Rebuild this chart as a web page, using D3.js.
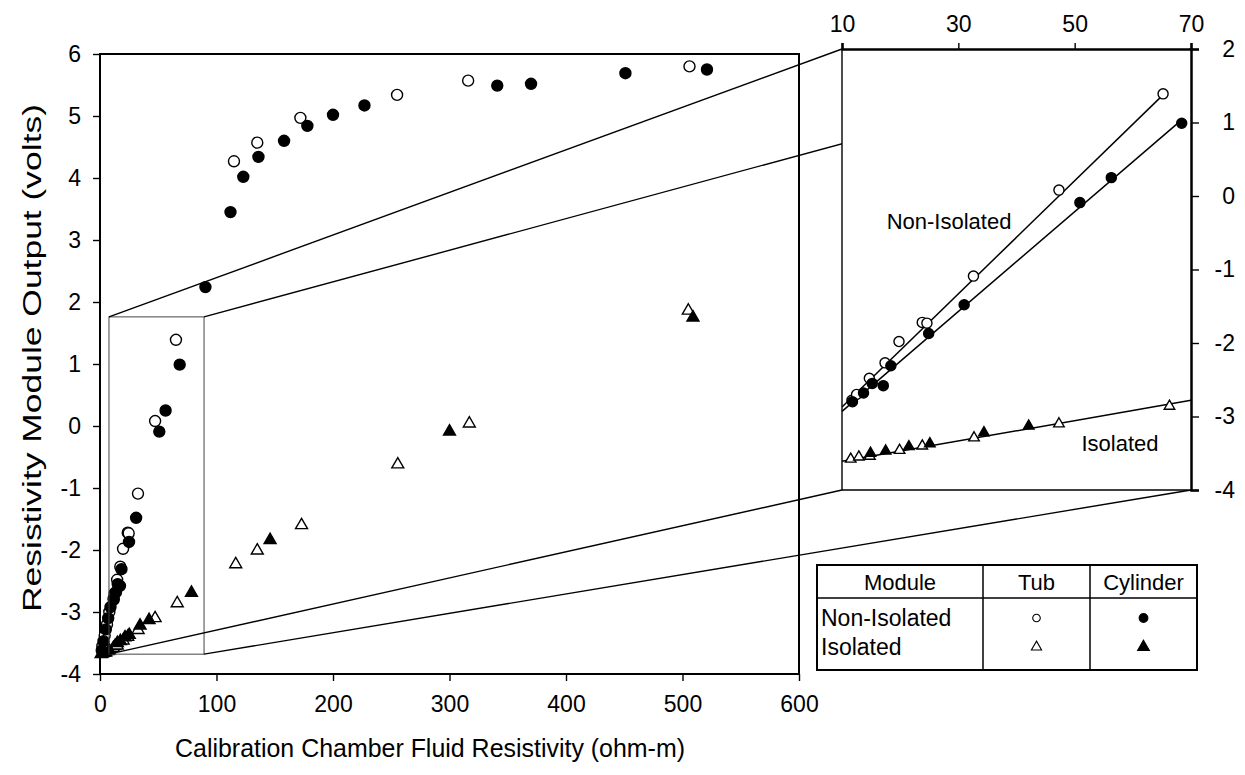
<!DOCTYPE html>
<html>
<head>
<meta charset="utf-8">
<script src="https://cdn.jsdelivr.net/npm/d3@7"></script>
<style>
  body { margin: 0; background: #fff; }
  text { font-family: "Liberation Sans", Arial, sans-serif; fill: #000; }
</style>
</head>
<body>
<div id="chart"></div>
<script>
// resistivity (ohm-m), module output (volts)
const tubNonIso = [[2,-3.55],[4,-3.38],[6,-3.2],[8,-3.0],[11.7,-2.78],[12.5,-2.7],[14.7,-2.48],[17.4,-2.27],
  [19.8,-1.98],[23.8,-1.72],[24.6,-1.73],[32.6,-1.09],[47.3,0.08],[65.2,1.39],
  [115,4.27],[135,4.57],[172,4.97],[255,5.34],[316,5.57],[506,5.8]];
const cylNonIso = [[1.5,-3.62],[3,-3.47],[5,-3.28],[7,-3.1],[9,-2.92],[11.8,-2.8],[13.7,-2.68],[15.2,-2.55],
  [17.1,-2.58],[18.4,-2.31],[24.9,-1.87],[31,-1.48],[50.9,-0.09],[56.3,0.25],[68.4,0.99],
  [90.5,2.24],[112,3.45],[123,4.02],[136,4.34],[158,4.6],[178,4.84],[200,5.02],[227,5.17],
  [341,5.49],[370,5.52],[451,5.69],[521,5.75]];
const tubIso = [[1,-3.68],[4,-3.66],[7,-3.63],[11.5,-3.58],[12.9,-3.55],[14.8,-3.54],[19.9,-3.46],[23.8,-3.4],
  [32.7,-3.29],[47.3,-3.1],[66.3,-2.86],[116.5,-2.23],[135,-2.01],[173,-1.6],[255.6,-0.62],[317,0.04],[505,1.86]];
const cylIso = [[2,-3.67],[5,-3.65],[8,-3.62],[14.9,-3.5],[17.5,-3.47],[21.5,-3.41],[25.1,-3.37],[34.4,-3.22],
  [42.1,-3.13],[78.5,-2.69],[146,-1.84],[300,-0.09],[509,1.75]];

// fitted lines shown in the enlargement
const tubFit = [[10,-2.87],[65.5,1.4]];
const cylFit = [[10,-2.93],[68.6,1.05]];
const isoFit = [[10,-3.61],[70,-2.78]];

// ticks
const mainXTicks = [0,100,200,300,400,500,600];
const mainYTicks = [-4,-3,-2,-1,0,1,2,3,4,5,6];
const insetXTicks = [10,30,50,70];
const insetYTicks = [-4,-3,-2,-1,0,1,2];

// region of the main plot that is enlarged
const zoomBoxX = [7.7, 89.3];
const zoomBoxY = [-3.68, 1.76];

const legendCols = ["Module","Tub","Cylinder"];
const legendRows = ["Non-Isolated","Isolated"];

const xTitle = "Calibration Chamber Fluid Resistivity (ohm-m)";
const yTitle = "Resistivity Module Output (volts)";

const width = 1245, height = 775;
const svg = d3.select("#chart").append("svg")
  .attr("width", width).attr("height", height);

const main = {left: 100, right: 799, top: 54, bottom: 674};
const x = d3.scaleLinear().domain([0,600]).range([main.left, main.right]);
const y = d3.scaleLinear().domain([-4,6]).range([main.bottom, main.top]);

const ins = {left: 842, right: 1191, top: 49, bottom: 490};
const xi = d3.scaleLinear().domain([10,70]).range([ins.left, ins.right]);
const yi = d3.scaleLinear().domain([-4,2]).range([ins.bottom, ins.top]);

const tri = d3.symbol().type(d3.symbolTriangle);
const circ = d3.symbol().type(d3.symbolCircle);
const plain = d => String(d);

function drawPoints(g, data, sx, sy, shape, filled, size) {
  g.append("g").selectAll("path").data(data).join("path")
    .attr("transform", d => `translate(${sx(d[0])},${sy(d[1])})`)
    .attr("d", (shape == "circle" ? circ : tri).size(size)())
    .attr("fill", filled ? "#000" : "#fff")
    .attr("stroke", "#000")
    .attr("stroke-width", 1.4);
}

function styleAxis(a, keepDomain) {
  if (keepDomain) a.select(".domain").attr("stroke", "#000").attr("stroke-width", 2.5);
  else a.select(".domain").remove();
  a.selectAll("line").attr("stroke", "#000").attr("stroke-width", 1.4);
  a.selectAll("text").attr("font-size", 23)
    .attr("font-family", "Liberation Sans, Arial, sans-serif").attr("fill", "#000");
}

// ---- main plot
const gm = svg.append("g");

gm.append("rect")
  .attr("x", main.left).attr("y", main.top)
  .attr("width", main.right - main.left).attr("height", main.bottom - main.top)
  .attr("fill", "none").attr("stroke", "#000").attr("stroke-width", 2);

const xAxis = gm.append("g")
  .attr("transform", `translate(0,${main.bottom})`)
  .call(d3.axisBottom(x).tickValues(mainXTicks).tickFormat(plain).tickSize(7).tickPadding(15));
const yAxis = gm.append("g")
  .attr("transform", `translate(${main.left},0)`)
  .call(d3.axisLeft(y).tickValues(mainYTicks).tickFormat(plain).tickSize(7).tickPadding(12));
styleAxis(xAxis, false);
styleAxis(yAxis, false);

gm.append("text")
  .attr("x", 430).attr("y", 757)
  .attr("text-anchor", "middle").attr("font-size", 25)
  .attr("textLength", 510).attr("lengthAdjust", "spacingAndGlyphs")
  .text(xTitle);
gm.append("text")
  .attr("transform", `translate(41,358) rotate(-90)`)
  .attr("text-anchor", "middle").attr("font-size", 25)
  .attr("textLength", 508).attr("lengthAdjust", "spacingAndGlyphs")
  .text(yTitle);

drawPoints(gm, tubIso, x, y, "tri", false, 62);
drawPoints(gm, cylIso, x, y, "tri", true, 62);
drawPoints(gm, tubNonIso, x, y, "circle", false, 95);
drawPoints(gm, cylNonIso, x, y, "circle", true, 95);

// enlargement box and the lines running to the inset
gm.append("rect")
  .attr("x", x(zoomBoxX[0])).attr("y", y(zoomBoxY[1]))
  .attr("width", x(zoomBoxX[1]) - x(zoomBoxX[0]))
  .attr("height", y(zoomBoxY[0]) - y(zoomBoxY[1]))
  .attr("fill", "none").attr("stroke", "#444").attr("stroke-width", 1);

const links = [
  [[x(zoomBoxX[0]), y(zoomBoxY[1])], [xi(10), yi(2)]],
  [[x(zoomBoxX[1]), y(zoomBoxY[1])], [xi(70), yi(2)]],
  [[x(zoomBoxX[0]), y(zoomBoxY[0])], [xi(10), yi(-4)]],
  [[x(zoomBoxX[1]), y(zoomBoxY[0])], [xi(70), yi(-4)]]
];
gm.selectAll("line.link").data(links).join("line")
  .attr("class", "link")
  .attr("x1", d => d[0][0]).attr("y1", d => d[0][1])
  .attr("x2", d => d[1][0]).attr("y2", d => d[1][1])
  .attr("stroke", "#000").attr("stroke-width", 1.4);

// ---- inset
const gi = svg.append("g");
gi.append("rect")
  .attr("x", ins.left).attr("y", ins.top)
  .attr("width", ins.right - ins.left).attr("height", ins.bottom - ins.top)
  .attr("fill", "#fff").attr("stroke", "none");
gi.append("line").attr("x1", ins.left).attr("x2", ins.left).attr("y1", ins.top).attr("y2", ins.bottom)
  .attr("stroke", "#000").attr("stroke-width", 1.4);
gi.append("line").attr("x1", ins.left).attr("x2", ins.right).attr("y1", ins.bottom).attr("y2", ins.bottom)
  .attr("stroke", "#000").attr("stroke-width", 1.4);

const line = d3.line().x(d => xi(d[0])).y(d => yi(d[1]));
[tubFit, cylFit, isoFit].forEach(f => {
  gi.append("path").datum(f).attr("d", line)
    .attr("fill", "none").attr("stroke", "#000").attr("stroke-width", 1.5);
});

const inRange = d => d[0] >= 10 && d[0] <= 70;
drawPoints(gi, tubIso.filter(inRange), xi, yi, "tri", false, 48);
drawPoints(gi, cylIso.filter(inRange), xi, yi, "tri", true, 48);
drawPoints(gi, tubNonIso.filter(inRange), xi, yi, "circle", false, 80);
drawPoints(gi, cylNonIso.filter(inRange), xi, yi, "circle", true, 80);

const xiAxis = gi.append("g")
  .attr("transform", `translate(0,${ins.top})`)
  .call(d3.axisTop(xi).tickValues(insetXTicks).tickFormat(plain).tickSize(6).tickPadding(11));
const yiAxis = gi.append("g")
  .attr("transform", `translate(${ins.right},0)`)
  .call(d3.axisRight(yi).tickValues(insetYTicks).tickFormat(plain).tickSize(8).tickPadding(12));
styleAxis(xiAxis, true);
styleAxis(yiAxis, true);
yiAxis.selectAll("text").attr("text-anchor", "end").attr("x", 44);

gi.append("text").attr("x", 949).attr("y", 229).attr("text-anchor", "middle")
  .attr("font-size", 22).text(legendRows[0]);
gi.append("text").attr("x", 1120).attr("y", 451).attr("text-anchor", "middle")
  .attr("font-size", 22).text(legendRows[1]);

// ---- legend table
const lg = svg.append("g");
const tbl = {left: 817, right: 1197, top: 565, head: 598, bottom: 670};
const colEdges = [tbl.left, 983, 1090, tbl.right];
lg.append("rect").attr("x", tbl.left).attr("y", tbl.top)
  .attr("width", tbl.right - tbl.left).attr("height", tbl.bottom - tbl.top)
  .attr("fill", "#fff").attr("stroke", "#000").attr("stroke-width", 2);
lg.append("line").attr("x1", tbl.left).attr("x2", tbl.right).attr("y1", tbl.head).attr("y2", tbl.head)
  .attr("stroke", "#000").attr("stroke-width", 1.5);
colEdges.slice(1, 3).forEach(cx => {
  lg.append("line").attr("x1", cx).attr("x2", cx).attr("y1", tbl.top).attr("y2", tbl.bottom)
    .attr("stroke", "#000").attr("stroke-width", 1.5);
});
legendCols.forEach((c, i) => {
  lg.append("text").attr("x", (colEdges[i] + colEdges[i + 1]) / 2).attr("y", 590)
    .attr("text-anchor", "middle").attr("font-size", 22).text(c);
});
const rowY = [618, 647];
legendRows.forEach((r, i) => {
  lg.append("text").attr("x", 821).attr("y", rowY[i] + 8).attr("font-size", 23).text(r);
});
const cTub = (colEdges[1] + colEdges[2]) / 2, cCyl = (colEdges[2] + colEdges[3]) / 2;
const legendMarks = [
  {cx: cTub, cy: rowY[0], shape: "circle", filled: false},
  {cx: cCyl, cy: rowY[0], shape: "circle", filled: true},
  {cx: cTub, cy: rowY[1], shape: "tri", filled: false},
  {cx: cCyl, cy: rowY[1], shape: "tri", filled: true}
];
legendMarks.forEach(m => {
  lg.append("path")
    .attr("transform", `translate(${m.cx},${m.cy})`)
    .attr("d", (m.shape == "circle" ? circ : tri).size(m.filled ? 60 : 45)())
    .attr("fill", m.filled ? "#000" : "#fff").attr("stroke", "#000").attr("stroke-width", 1.1);
});
</script>
</body>
</html>
